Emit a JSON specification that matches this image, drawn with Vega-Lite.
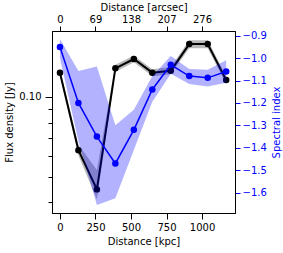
{
  "$schema": "https://vega.github.io/schema/vega-lite/v6.json",
  "width": 183,
  "height": 182,
  "autosize": "none",
  "padding": {"left": 52, "top": 31, "right": 48, "bottom": 40},
  "config": {
    "font": "DejaVu Sans",
    "view": {"stroke": "black", "strokeWidth": 1},
    "axis": {
      "labelFont": "DejaVu Sans", "titleFont": "DejaVu Sans",
      "labelFontSize": 10, "titleFontSize": 10, "titleFontWeight": "normal",
      "grid": false, "domainColor": "black", "tickColor": "black",
      "labelColor": "black", "titleColor": "black", "tickWidth": 1, "domainWidth": 1
    }
  },
  "data": {
    "values": [
      {"d": 0, "flux": 0.1233, "flux_lo": 0.1200, "flux_hi": 0.1265, "alpha": -0.95, "alpha_lo": -1.0, "alpha_hi": -0.915},
      {"d": 130, "flux": 0.0629, "flux_lo": 0.0601, "flux_hi": 0.0660, "alpha": -1.20, "alpha_lo": -1.37, "alpha_hi": -1.058},
      {"d": 260, "flux": 0.0448, "flux_lo": 0.0410, "flux_hi": 0.0530, "alpha": -1.35, "alpha_lo": -1.655, "alpha_hi": -1.037},
      {"d": 390, "flux": 0.1280, "flux_lo": 0.1240, "flux_hi": 0.1320, "alpha": -1.47, "alpha_lo": -1.625, "alpha_hi": -1.30},
      {"d": 520, "flux": 0.1388, "flux_lo": 0.1350, "flux_hi": 0.1430, "alpha": -1.32, "alpha_lo": -1.41, "alpha_hi": -1.23},
      {"d": 650, "flux": 0.1233, "flux_lo": 0.1195, "flux_hi": 0.1270, "alpha": -1.14, "alpha_lo": -1.195, "alpha_hi": -1.08},
      {"d": 780, "flux": 0.1254, "flux_lo": 0.1215, "flux_hi": 0.1295, "alpha": -1.03, "alpha_lo": -1.07, "alpha_hi": -0.99},
      {"d": 910, "flux": 0.1580, "flux_lo": 0.1525, "flux_hi": 0.1635, "alpha": -1.08, "alpha_lo": -1.115, "alpha_hi": -1.048},
      {"d": 1040, "flux": 0.1580, "flux_lo": 0.1525, "flux_hi": 0.1635, "alpha": -1.088, "alpha_lo": -1.127, "alpha_hi": -1.052},
      {"d": 1170, "flux": 0.1156, "flux_lo": 0.1115, "flux_hi": 0.1195, "alpha": -1.06, "alpha_lo": -1.11, "alpha_hi": -1.01}
    ]
  },
  "layer": [
    {
      "encoding": {
        "x": {
          "field": "d", "type": "quantitative",
          "scale": {"domain": [-56, 1232], "nice": false, "zero": false},
          "axis": {"orient": "bottom", "values": [0, 250, 500, 750, 1000], "format": "d", "title": "Distance [kpc]", "tickSize": 6, "labelPadding": 3, "titlePadding": 4, "labelFlush": false}
        }
      },
      "layer": [
        {
          "mark": {"type": "area", "color": "#808080", "opacity": 0.55, "clip": true},
          "encoding": {
            "y": {"field": "flux_lo", "type": "quantitative",
              "scale": {"type": "log", "domain": [0.0365, 0.177], "nice": false},
              "axis": {"orient": "left", "title": "Flux density [Jy]", "values": [0.04, 0.05, 0.06, 0.07, 0.08, 0.09, 0.1],
                "labelExpr": "datum.value == 0.1 ? '0.10' : ''",
                "tickSize": {"condition": {"test": "datum.value == 0.1", "value": 7}, "value": 4},
                "labelPadding": 4, "titlePadding": 4}},
            "y2": {"field": "flux_hi"}
          }
        },
        {
          "mark": {"type": "line", "color": "black", "strokeWidth": 2, "clip": true},
          "encoding": {
            "y": {"field": "flux", "type": "quantitative",
              "scale": {"type": "log", "domain": [0.0365, 0.177], "nice": false},
              "axis": {"orient": "left", "title": "Flux density [Jy]", "values": [0.04, 0.05, 0.06, 0.07, 0.08, 0.09, 0.1],
                "labelExpr": "datum.value == 0.1 ? '0.10' : ''",
                "tickSize": {"condition": {"test": "datum.value == 0.1", "value": 7}, "value": 4},
                "labelPadding": 4, "titlePadding": 4}}
          }
        },
        {
          "mark": {"type": "point", "filled": true, "color": "black", "size": 42, "opacity": 1, "clip": true},
          "encoding": {
            "y": {"field": "flux", "type": "quantitative",
              "scale": {"type": "log", "domain": [0.0365, 0.177], "nice": false},
              "axis": {"orient": "left", "title": "Flux density [Jy]", "values": [0.04, 0.05, 0.06, 0.07, 0.08, 0.09, 0.1],
                "labelExpr": "datum.value == 0.1 ? '0.10' : ''",
                "tickSize": {"condition": {"test": "datum.value == 0.1", "value": 7}, "value": 4},
                "labelPadding": 4, "titlePadding": 4}}
          }
        }
      ]
    },
    {
      "encoding": {
        "x": {
          "field": "d", "type": "quantitative",
          "scale": {"domain": [-56, 1232], "nice": false, "zero": false},
          "axis": {"orient": "top", "values": [0, 250, 500, 750, 1000], "labelExpr": "format(datum.value * 0.276, 'd')", "title": "Distance [arcsec]", "tickSize": 5, "labelPadding": 2, "titlePadding": 2, "labelFlush": false}
        }
      },
      "layer": [
        {
          "mark": {"type": "area", "color": "#0000ff", "opacity": 0.3, "clip": true},
          "encoding": {
            "y": {"field": "alpha_lo", "type": "quantitative",
              "scale": {"domain": [-1.691, -0.879], "nice": false, "zero": false},
              "axis": {"orient": "right", "title": "Spectral index", "titleAngle": 270, "titleBaseline": "top", "values": [-1.6, -1.5, -1.4, -1.3, -1.2, -1.1, -1.0, -0.9], "format": ".1f",
                "labelColor": "#0000ff", "tickColor": "#0000ff", "titleColor": "#0000ff", "tickSize": 5, "labelPadding": 2, "titlePadding": 5}},
            "y2": {"field": "alpha_hi"}
          }
        },
        {
          "mark": {"type": "line", "color": "#0000ff", "strokeWidth": 1.5, "clip": true},
          "encoding": {
            "y": {"field": "alpha", "type": "quantitative",
              "scale": {"domain": [-1.691, -0.879], "nice": false, "zero": false},
              "axis": {"orient": "right", "title": "Spectral index", "titleAngle": 270, "titleBaseline": "top", "values": [-1.6, -1.5, -1.4, -1.3, -1.2, -1.1, -1.0, -0.9], "format": ".1f",
                "labelColor": "#0000ff", "tickColor": "#0000ff", "titleColor": "#0000ff", "tickSize": 5, "labelPadding": 2, "titlePadding": 5}}
          }
        },
        {
          "mark": {"type": "point", "filled": true, "color": "#0000ff", "size": 42, "opacity": 1, "clip": true},
          "encoding": {
            "y": {"field": "alpha", "type": "quantitative",
              "scale": {"domain": [-1.691, -0.879], "nice": false, "zero": false},
              "axis": {"orient": "right", "title": "Spectral index", "titleAngle": 270, "titleBaseline": "top", "values": [-1.6, -1.5, -1.4, -1.3, -1.2, -1.1, -1.0, -0.9], "format": ".1f",
                "labelColor": "#0000ff", "tickColor": "#0000ff", "titleColor": "#0000ff", "tickSize": 5, "labelPadding": 2, "titlePadding": 5}}
          }
        }
      ]
    }
  ],
  "resolve": {"scale": {"y": "independent"}, "axis": {"x": "independent", "y": "independent"}}
}
